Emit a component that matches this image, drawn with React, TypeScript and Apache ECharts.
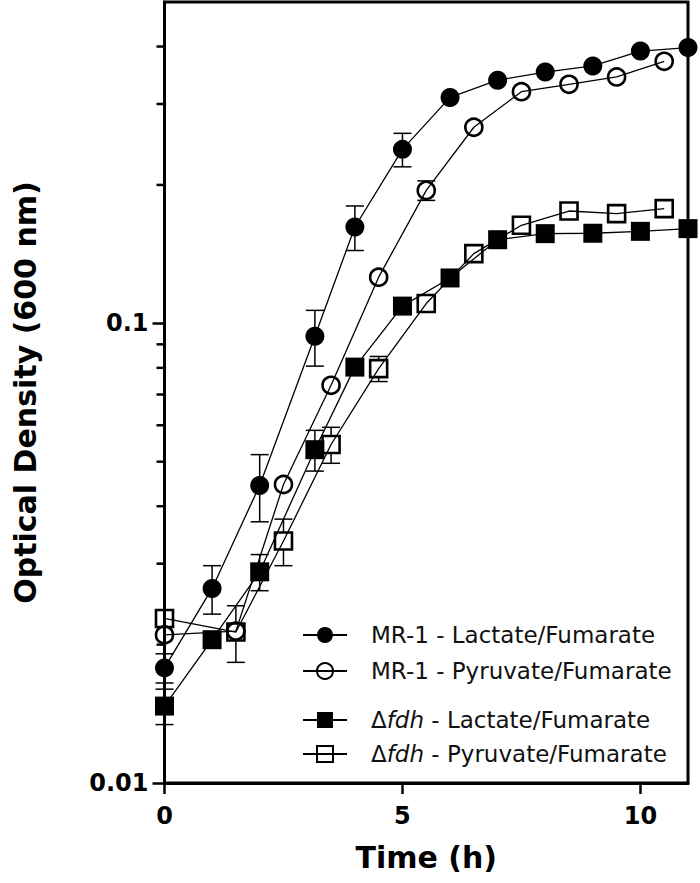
import React, { useEffect, useRef } from 'react';
import * as echarts from 'echarts';

// ---- data ----
const mr1LacTime = [0, 1, 2, 3.16, 4, 5, 6, 7, 8, 9, 10, 11];
const mr1LacOD = [0.0178, 0.0265, 0.0444, 0.0937, 0.162, 0.239, 0.31, 0.338, 0.352, 0.363, 0.391, 0.398];
const mr1LacErr = [0.0013, 0.0032, 0.0074, 0.013, 0.018, 0.02, 0.008, 0.008, 0.008, 0.008, 0.008, 0.008];

const mr1PyrTime = [0, 1.5, 2.5, 3.5, 4.5, 5.5, 6.5, 7.5, 8.5, 9.5, 10.5];
const mr1PyrOD = [0.021, 0.0214, 0.0446, 0.0733, 0.126, 0.1946, 0.267, 0.319, 0.331, 0.3435, 0.3715];
const mr1PyrErr = [0.0008, 0.0008, 0.0015, 0.0025, 0.004, 0.0095, 0.006, 0.006, 0.006, 0.006, 0.006];

const fdhLacTime = [0, 1, 2, 3.16, 4, 5, 6, 7, 8, 9, 10, 11];
const fdhLacOD = [0.0147, 0.0205, 0.0288, 0.0531, 0.0803, 0.109, 0.1255, 0.152, 0.1567, 0.157, 0.1585, 0.1607];
const fdhLacErr = [0.0013, 0.0008, 0.0026, 0.0054, 0.0035, 0.003, 0.003, 0.003, 0.003, 0.003, 0.003, 0.003];

const fdhPyrTime = [0, 1.5, 2.5, 3.5, 4.5, 5.5, 6.5, 7.5, 8.5, 9.5, 10.5];
const fdhPyrOD = [0.0228, 0.0213, 0.0336, 0.0545, 0.0797, 0.1104, 0.1418, 0.1634, 0.1755, 0.1732, 0.1776];
const fdhPyrErr = [0.0008, 0.003, 0.0039, 0.0049, 0.005, 0.003, 0.003, 0.003, 0.003, 0.003, 0.003];

const seriesNames = [
  'MR-1 - Lactate/Fumarate',
  'MR-1 - Pyruvate/Fumarate',
  'Δfdh - Lactate/Fumarate',
  'Δfdh - Pyruvate/Fumarate',
];

const xTickValues = [0, 5, 10];
const yTickValues = [0.01, 0.1];
const yMinorTickValues = [0.02, 0.03, 0.04, 0.05, 0.06, 0.07, 0.08, 0.09, 0.2, 0.3, 0.4];

const xTitle = 'Time (h)';
const yTitle = 'Optical Density (600 nm)';

// ---- helpers ----
const pairs = (t: number[], v: number[]) => t.map((x, i) => [x, v[i]]);
const triples = (t: number[], v: number[], e: number[]) => t.map((x, i) => [x, v[i], e[i]]);

const MARKER_R = 9;

const errRender = (_p: any, api: any) => {
  const t = api.value(0);
  const v = api.value(1);
  const e = api.value(2);
  const c = api.coord([t, v]);
  const top = api.coord([t, v + e]);
  const bot = api.coord([t, v - e]);
  const half = 9;
  const style = { stroke: '#000', lineWidth: 1.5 };
  const children: any[] = [];
  if (top[1] < c[1] - MARKER_R) {
    children.push({ type: 'line', shape: { x1: c[0], y1: top[1], x2: c[0], y2: c[1] - MARKER_R }, style });
    children.push({ type: 'line', shape: { x1: c[0] - half, y1: top[1], x2: c[0] + half, y2: top[1] }, style });
  }
  if (bot[1] > c[1] + MARKER_R) {
    children.push({ type: 'line', shape: { x1: c[0], y1: c[1] + MARKER_R, x2: c[0], y2: bot[1] }, style });
    children.push({ type: 'line', shape: { x1: c[0] - half, y1: bot[1], x2: c[0] + half, y2: bot[1] }, style });
  }
  return { type: 'group', children };
};

const legendFormatter = (name: string) => {
  if (name.startsWith('Δfdh')) {
    return '{s| }Δ{i|fdh}' + name.slice(4);
  }
  return '{s| }' + name;
};

const LEG_FS = 23;
const legendText = {
  fontFamily: 'DejaVu Sans',
  fontSize: LEG_FS,
  color: '#111',
  lineHeight: 24,
  rich: {
    s: { width: 19, fontFamily: 'DejaVu Sans', fontSize: LEG_FS, lineHeight: 24 },
    i: { fontStyle: 'italic', fontFamily: 'DejaVu Sans', fontSize: LEG_FS, color: '#111', lineHeight: 24 },
  },
};

const lineSeries = (name: string, data: number[][], symbol: string, size: number, filled: boolean) => ({
  type: 'line',
  name,
  data,
  symbol,
  symbolSize: size,
  z: 3,
  lineStyle: { color: '#000', width: 1.3 },
  itemStyle: filled
    ? { color: '#000', borderColor: '#000', borderWidth: 0 }
    : { color: 'transparent', borderColor: '#000', borderWidth: 2.6 },
});

const errSeries = (name: string, data: number[][]) => ({
  type: 'custom',
  name,
  data,
  z: 2,
  silent: true,
  clip: false,
  encode: { x: 0, y: 1 },
  renderItem: errRender,
});

const labelFont = { fontFamily: 'DejaVu Sans', fontWeight: 'bold', fontSize: 24, color: '#000' };
const titleFont = { fontFamily: 'DejaVu Sans', fontWeight: 'bold', fontSize: 30, color: '#000' };

export default function App() {
  const ref = useRef<HTMLDivElement>(null);

  useEffect(() => {
    if (!ref.current) return;
    const chart = echarts.init(ref.current, undefined, { renderer: 'svg' });
    const option: any = {
      animation: false,
      backgroundColor: '#fff',
      grid: {
        left: 164.5,
        right: 12,
        top: 2,
        bottom: 100,
        show: true,
        borderWidth: 3,
        borderColor: '#000',
        backgroundColor: 'transparent',
        containLabel: false,
        outerBoundsMode: 'none',
      },
      xAxis: {
        type: 'value',
        min: 0,
        max: 11,
        interval: 5,
        name: xTitle,
        nameLocation: 'middle',
        nameGap: 59,
        nameTextStyle: titleFont,
        axisLine: { show: true, lineStyle: { color: '#000', width: 3 } },
        axisTick: { show: true, inside: false, length: 11, lineStyle: { color: '#000', width: 2.5 }, customValues: xTickValues },
        axisLabel: { show: true, margin: 21, ...labelFont, customValues: xTickValues },
        splitLine: { show: false },
      },
      yAxis: {
        type: 'log',
        logBase: 10,
        min: 0.01,
        max: 0.5,
        name: yTitle,
        nameLocation: 'middle',
        nameGap: 124,
        nameRotate: 90,
        nameTextStyle: titleFont,
        axisLine: { show: true, lineStyle: { color: '#000', width: 3 } },
        axisTick: { show: true, inside: false, length: 12, lineStyle: { color: '#000', width: 2.5 }, customValues: yTickValues },
        axisLabel: {
          show: true,
          margin: 16,
          ...labelFont,
          customValues: yTickValues,
          formatter: (v: number) => String(Number(v.toPrecision(3))),
        },
        splitLine: { show: false },
      },
      legend: [
        {
          data: [seriesNames[0], seriesNames[1]],
          orient: 'vertical',
          left: 302,
          top: 623,
          padding: 0,
          itemWidth: 44,
          itemHeight: 20,
          itemGap: 12,
          selectedMode: false,
          formatter: legendFormatter,
          textStyle: legendText,
        },
        {
          data: [seriesNames[2], seriesNames[3]],
          orient: 'vertical',
          left: 302,
          top: 708,
          padding: 0,
          itemWidth: 44,
          itemHeight: 20,
          itemGap: 10,
          selectedMode: false,
          formatter: legendFormatter,
          textStyle: legendText,
        },
      ],
      series: [
        errSeries('err0', triples(mr1LacTime, mr1LacOD, mr1LacErr)),
        errSeries('err1', triples(mr1PyrTime, mr1PyrOD, mr1PyrErr)),
        errSeries('err2', triples(fdhLacTime, fdhLacOD, fdhLacErr)),
        errSeries('err3', triples(fdhPyrTime, fdhPyrOD, fdhPyrErr)),
        lineSeries(seriesNames[0], pairs(mr1LacTime, mr1LacOD), 'circle', 19, true),
        lineSeries(seriesNames[1], pairs(mr1PyrTime, mr1PyrOD), 'circle', 17, false),
        lineSeries(seriesNames[2], pairs(fdhLacTime, fdhLacOD), 'rect', 19, true),
        lineSeries(seriesNames[3], pairs(fdhPyrTime, fdhPyrOD), 'rect', 17, false),
      ],
    };
    chart.setOption(option);

    // minor log ticks on the y axis, placed through the axis scale
    const addMinorTicks = () => {
      if (chart.isDisposed()) return;
      try {
        const els: any[] = [];
        yMinorTickValues.forEach((v, i) => {
          const p = chart.convertToPixel({ gridIndex: 0 } as any, [0, v]) as any;
          if (p && isFinite(p[0]) && isFinite(p[1])) {
            els.push({
              type: 'line',
              id: 'ymt' + i,
              z: 100,
              shape: { x1: p[0] - 8, y1: p[1], x2: p[0], y2: p[1] },
              style: { stroke: '#000', lineWidth: 2.5 },
            });
          }
        });
        chart.setOption({ graphic: els });
      } catch (e) {
        // ignore
      }
    };
    addMinorTicks();
    const timer = window.setTimeout(addMinorTicks, 0);

    return () => {
      window.clearTimeout(timer);
      chart.dispose();
    };
  }, []);

  return (
    <div
      ref={ref}
      style={{ position: 'fixed', left: 0, top: 0, width: 700, height: 883, background: '#fff' }}
    />
  );
}
